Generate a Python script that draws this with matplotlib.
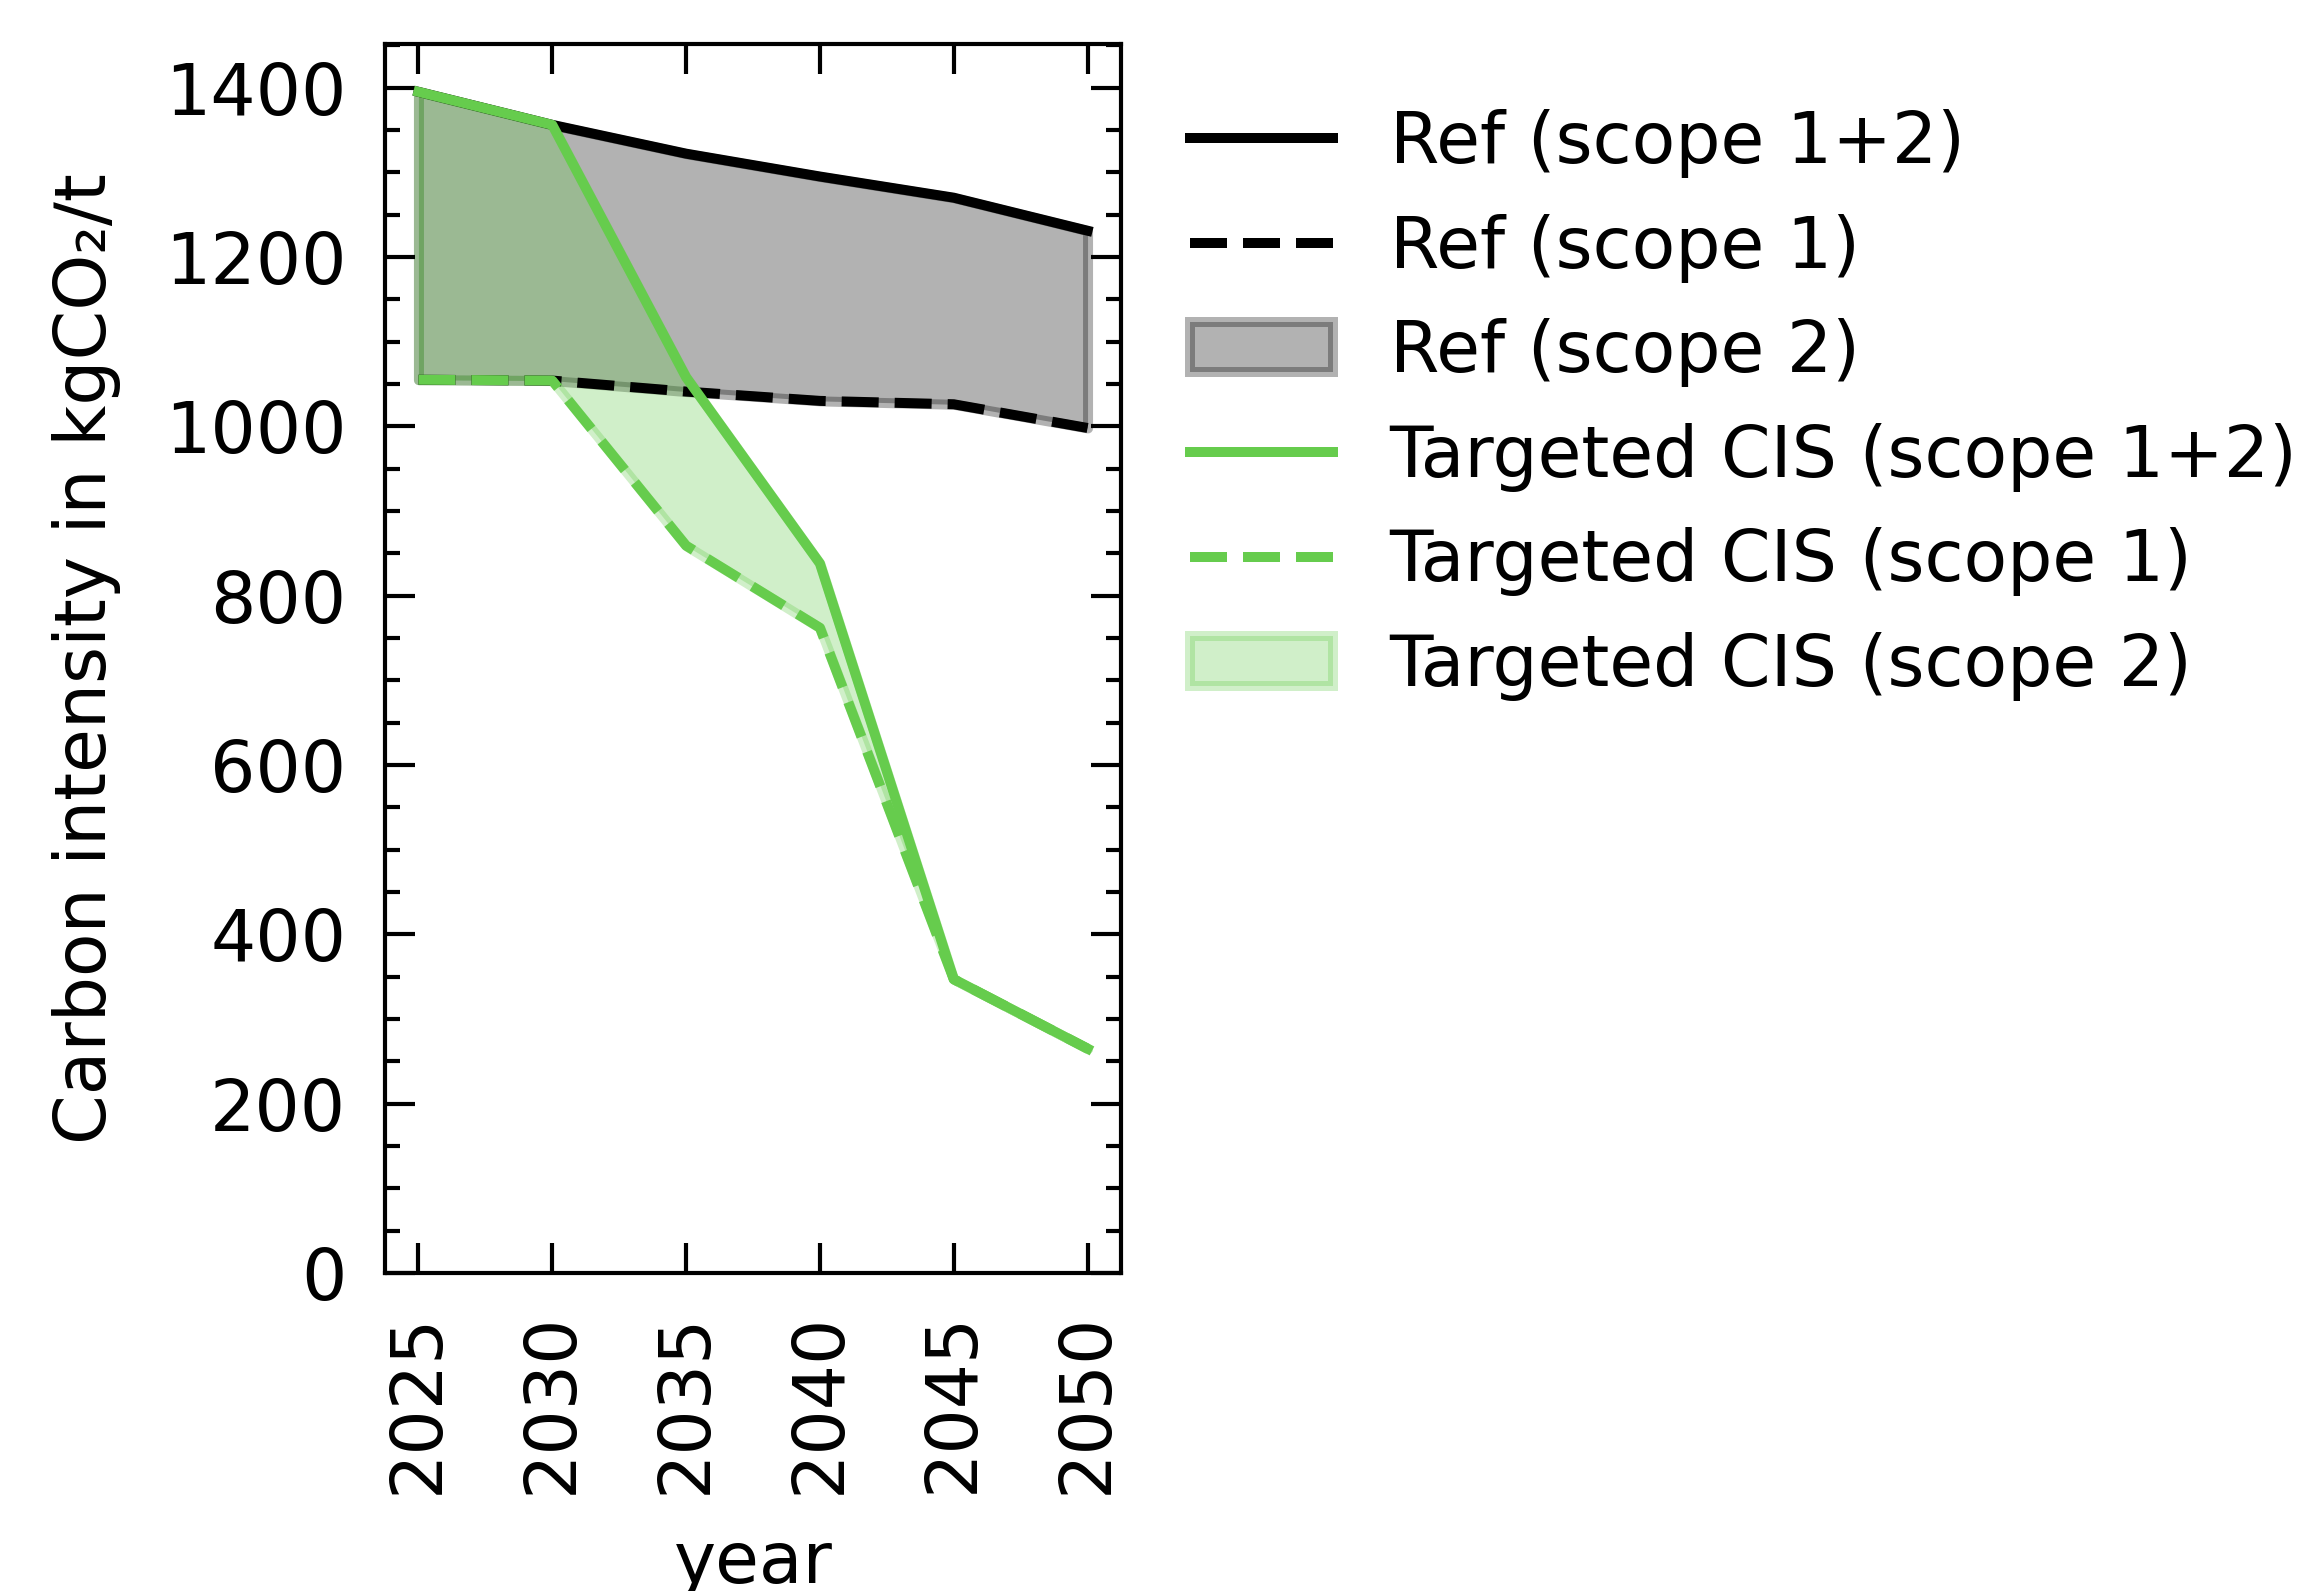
import matplotlib
matplotlib.use("Agg")
import matplotlib.pyplot as plt
from matplotlib.ticker import MultipleLocator

years = [2025, 2030, 2035, 2040, 2045, 2050]
ref_total = [1395, 1356, 1322, 1295, 1270, 1231]
ref_scope1 = [1055, 1054, 1041, 1030, 1026, 998]
cis_total = [1395, 1356, 1058, 838, 347, 265]
cis_scope1 = [1055, 1054, 859, 762, 347, 265]

REF_COLOR = "black"
CIS_COLOR = "#66cc4d"
LW = 2.4

plt.rcParams["font.family"] = ["DejaVu Sans"]
plt.rcParams["font.size"] = 17.1


def main() -> None:
    fig = plt.figure(figsize=(2315 / 300, 1591 / 300), dpi=300)
    ax = fig.add_axes([385 / 2315, 1 - 1273 / 1591, (1121 - 385) / 2315, (1273 - 44) / 1591])

    # reference scenario
    ax.plot(years, ref_total, color=REF_COLOR, lw=LW, label="Ref (scope 1+2)")
    ax.plot(years, ref_scope1, color=REF_COLOR, lw=LW, ls="--", label="Ref (scope 1)")
    ax.fill_between(years, ref_scope1, ref_total, color=REF_COLOR, alpha=0.3, lw=LW,
                    label="Ref (scope 2)")

    # targeted CIS scenario
    ax.plot(years, cis_total, color=CIS_COLOR, lw=LW, label="Targeted CIS (scope 1+2)")
    ax.plot(years, cis_scope1, color=CIS_COLOR, lw=LW, ls="--", label="Targeted CIS (scope 1)")
    ax.fill_between(years, cis_scope1, cis_total, color=CIS_COLOR, alpha=0.3, lw=LW,
                    label="Targeted CIS (scope 2)")

    ax.set_ylim(bottom=0)
    ax.set_xticks(years)
    ax.set_xticklabels([str(y) for y in years], rotation=90)
    ax.yaxis.set_major_locator(MultipleLocator(200))
    ax.yaxis.set_minor_locator(MultipleLocator(50))

    for s in ax.spines.values():
        s.set_linewidth(1.0)
    ax.tick_params(which="both", direction="in", top=True, right=True, width=1.0)
    ax.tick_params(which="major", length=7.3)
    ax.tick_params(which="minor", length=3.6)
    ax.tick_params(axis="y", pad=9.3)
    ax.tick_params(axis="x", pad=9.4)

    ax.set_xlabel("year", labelpad=8.4)
    ax.set_ylabel("Carbon intensity in kgCO₂/t", labelpad=10.5)

    ax.legend(loc="upper left", bbox_to_anchor=(1190 / 2315, 1 - 109 / 1591),
              bbox_transform=fig.transFigure, frameon=False, borderpad=0,
              borderaxespad=0)

    fig.savefig("out.png", dpi=300)


if __name__ == "__main__":
    main()
